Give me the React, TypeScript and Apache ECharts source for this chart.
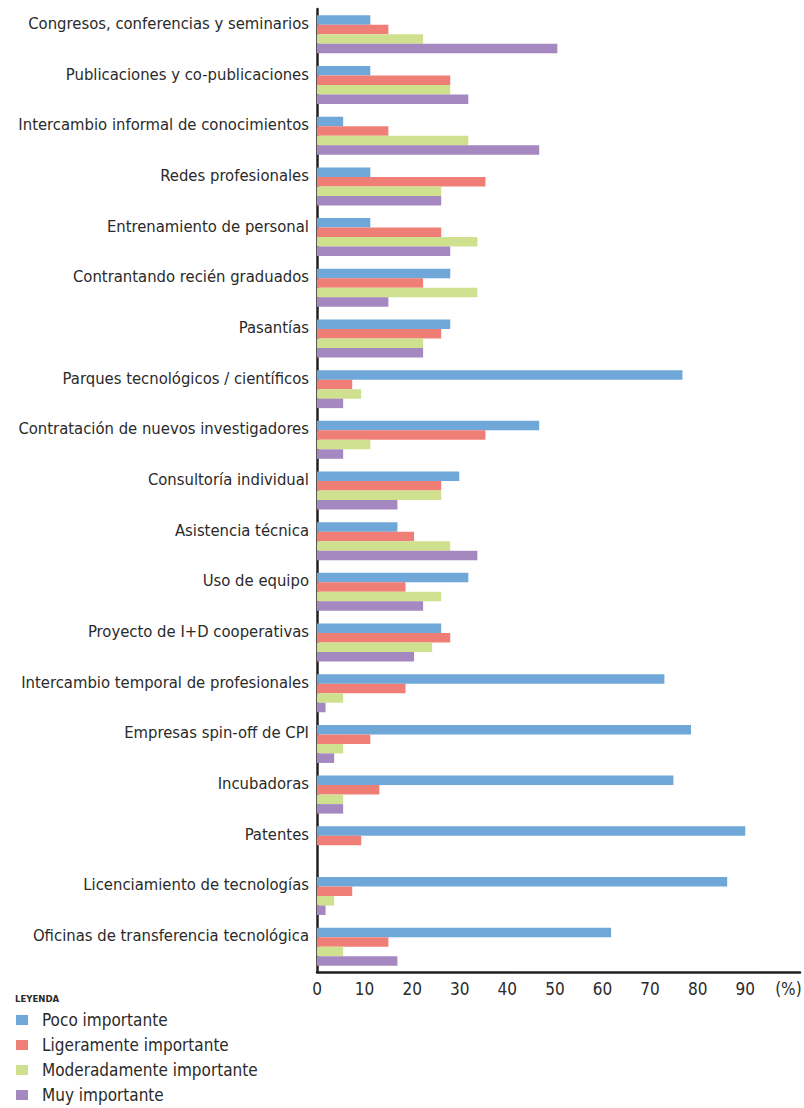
import React, { useEffect, useRef } from "react";
import * as echarts from "echarts";

const categories = [
  "Congresos, conferencias y seminarios",
  "Publicaciones y co-publicaciones",
  "Intercambio informal de conocimientos",
  "Redes profesionales",
  "Entrenamiento de personal",
  "Contrantando recién graduados",
  "Pasantías",
  "Parques tecnológicos / científicos",
  "Contratación de nuevos investigadores",
  "Consultoría individual",
  "Asistencia técnica",
  "Uso de equipo",
  "Proyecto de I+D cooperativas",
  "Intercambio temporal de profesionales",
  "Empresas spin-off de CPI",
  "Incubadoras",
  "Patentes",
  "Licenciamiento de tecnologías",
  "Oficinas de transferencia tecnológica",
];

const seriesNames = [
  "Poco importante",
  "Ligeramente importante",
  "Moderadamente importante",
  "Muy importante",
];

const pocoImportante = [11.2, 11.2, 5.5, 11.2, 11.2, 28.0, 28.0, 76.8, 46.7, 29.9, 16.9, 31.8, 26.1, 73.0, 78.6, 74.9, 90.0, 86.2, 61.8];
const ligeramenteImportante = [15.0, 28.0, 15.0, 35.4, 26.1, 22.3, 26.1, 7.4, 35.4, 26.1, 20.4, 18.6, 28.0, 18.6, 11.2, 13.1, 9.3, 7.4, 15.0];
const moderadamenteImportante = [22.3, 28.0, 31.8, 26.1, 33.7, 33.7, 22.3, 9.3, 11.2, 26.1, 28.0, 26.1, 24.2, 5.5, 5.5, 5.5, 0, 3.6, 5.5];
const muyImportante = [50.5, 31.8, 46.7, 26.1, 28.0, 15.0, 22.3, 5.5, 5.5, 16.9, 33.7, 22.3, 20.4, 1.8, 3.6, 5.5, 0, 1.8, 16.9];

const xTicks = [0, 10, 20, 30, 40, 50, 60, 70, 80, 90];
const unitTick = 100;

const colors = ["#6fa7d9", "#ef7e76", "#cfe08e", "#a688c1"];
const FONT = "'DejaVu Sans Condensed', 'Liberation Sans', sans-serif";
const TEXT = "#2a2a2a";

export default function App() {
  const ref = useRef<HTMLDivElement>(null);
  useEffect(() => {
    if (!ref.current) return;
    const chart = echarts.init(ref.current, undefined, { renderer: "svg" });
    const values = [pocoImportante, ligeramenteImportante, moderadamenteImportante, muyImportante];
    chart.setOption({
      animation: false,
      backgroundColor: "#ffffff",
      textStyle: { fontFamily: FONT },
      grid: { left: 317, right: 4, top: 9, bottom: 136, containLabel: false, outerBoundsMode: "none" },
      legend: {
        orient: "vertical",
        left: 16,
        top: 1010,
        padding: 0,
        icon: "rect",
        itemWidth: 12,
        itemHeight: 10,
        itemGap: 5,
        data: seriesNames,
        textStyle: { fontFamily: FONT, fontSize: 17, lineHeight: 20, color: TEXT, padding: [0, 0, 0, 9] },
      },
      graphic: [
        {
          type: "text",
          left: 15,
          top: 993,
          style: { text: "LEYENDA", fontFamily: FONT, fontWeight: "bold", fontSize: 9.5, fill: TEXT },
        },
      ],
      xAxis: {
        type: "value",
        min: 0,
        max: 101.5,
        interval: 10,
        axisLine: { show: true, lineStyle: { color: "#231f20", width: 2.5 } },
        axisTick: { show: false },
        splitLine: { show: false },
        axisLabel: {
          fontFamily: FONT,
          fontSize: 17,
          color: TEXT,
          margin: 8,
          showMaxLabel: false,
          formatter: (v: number) =>
            v === unitTick ? "{u|(%)}" : xTicks.includes(v) ? String(v) : "",
          rich: {
            u: { fontFamily: FONT, fontSize: 17, color: TEXT, padding: [0, 9, 0, 0] },
          },
        },
      },
      yAxis: {
        type: "category",
        inverse: true,
        data: categories,
        axisLine: { show: true, lineStyle: { color: "#231f20", width: 2.5 } },
        axisTick: { show: false },
        axisLabel: {
          fontFamily: FONT,
          fontSize: 16.5,
          color: TEXT,
          margin: 8,
          verticalAlign: "bottom",
          lineHeight: 22,
        },
      },
      series: seriesNames.map((name, i) => ({
        name,
        type: "bar",
        data: values[i],
        barWidth: 9.5,
        barGap: "0%",
        itemStyle: { color: colors[i] },
      })),
    });
    return () => chart.dispose();
  }, []);
  return <div ref={ref} style={{ position: "fixed", left: 0, top: 0, width: 804, height: 1108 }} />;
}
